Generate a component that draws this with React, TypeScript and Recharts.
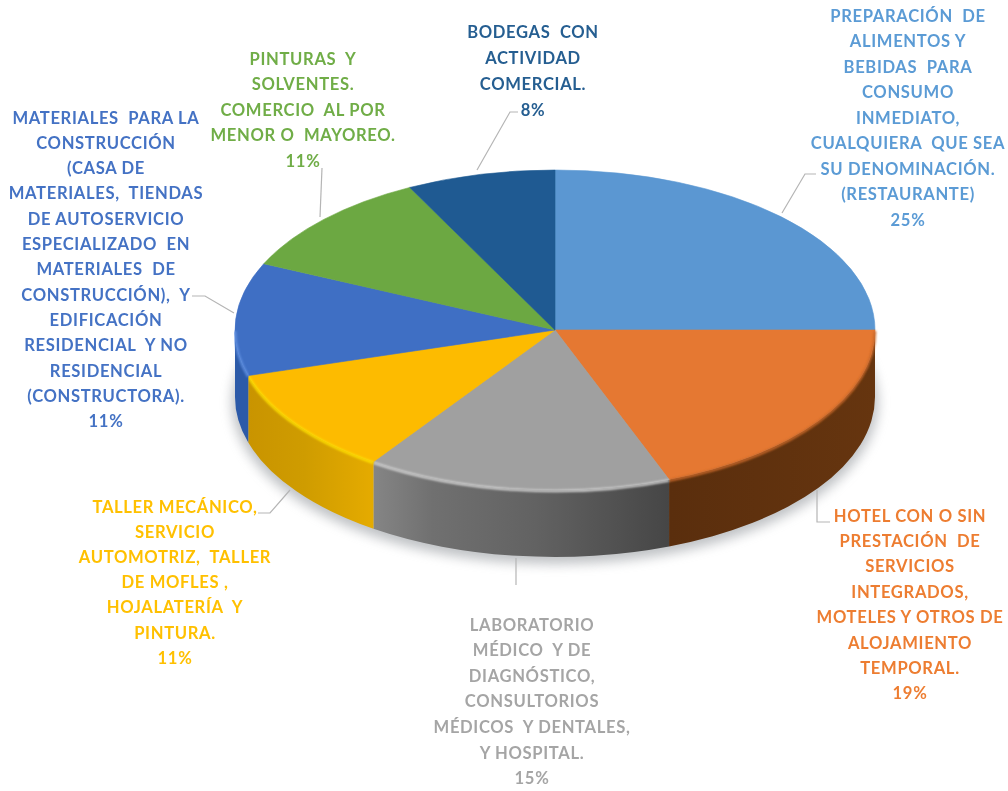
import React from 'react';
import { PieChart, Pie } from 'recharts';

const categories = ['Restaurante', 'Hotel', 'Laboratorio', 'Taller', 'Materiales', 'Pinturas', 'Bodegas'];
const shares = [25, 19.2, 15.4, 10.8, 11.4, 10.7, 7.5];
const labelText = [
  ['PREPARACIÓN  DE', 'ALIMENTOS Y', 'BEBIDAS  PARA', 'CONSUMO', 'INMEDIATO,', 'CUALQUIERA  QUE SEA', 'SU DENOMINACIÓN.', '(RESTAURANTE)'],
  ['HOTEL CON O SIN', 'PRESTACIÓN  DE', 'SERVICIOS', 'INTEGRADOS,', 'MOTELES Y OTROS DE', 'ALOJAMIENTO', 'TEMPORAL.'],
  ['LABORATORIO', 'MÉDICO  Y DE', 'DIAGNÓSTICO,', 'CONSULTORIOS', 'MÉDICOS  Y DENTALES,', 'Y HOSPITAL.'],
  ['TALLER MECÁNICO,', 'SERVICIO', 'AUTOMOTRIZ,  TALLER', 'DE MOFLES ,', 'HOJALATERÍA  Y', 'PINTURA.'],
  ['MATERIALES  PARA LA', 'CONSTRUCCIÓN', '(CASA DE', 'MATERIALES,  TIENDAS', 'DE AUTOSERVICIO', 'ESPECIALIZADO  EN', 'MATERIALES  DE', 'CONSTRUCCIÓN),  Y', 'EDIFICACIÓN', 'RESIDENCIAL  Y NO', 'RESIDENCIAL', '(CONSTRUCTORA).'],
  ['PINTURAS  Y', 'SOLVENTES.', 'COMERCIO  AL POR', 'MENOR O  MAYOREO.'],
  ['BODEGAS  CON', 'ACTIVIDAD', 'COMERCIAL.'],
];
const faceColors = ['#5b97d2', '#e57832', '#a0a0a0', '#fdbb00', '#3f6fc4', '#6ca842', '#1f5a92'];
const textColors = ['#5b9bd5', '#ed7d31', '#a5a5a5', '#ffc000', '#4472c4', '#70ad47', '#255e91'];
const rimColors = ['#7fb2e2', '#c8682a', '#cfcfcf', '#ffe000', '#5f8fe0', '#88c060', '#3a78b0'];

const PIE_CX = 555;
const PIE_CY = 330;
const RADIUS = 320;
const TILT = 0.5;
const DEPTH = 67;

const labelCenters = [908, 910, 532, 175, 106, 303, 533];
const labelTops = [16, 516, 625, 507, 118, 59, 32];
const lineSteps = [25.5, 25.4, 25.6, 25.2, 25.3, 25.5, 26];
const leaderPoints = [
  '782,213 805,174 816,174',
  '817,490 817,522 830,522',
  '516,558 516,585',
  '290,490 270,513 258,513',
  '234,313 205,296 192,296',
  '320,217 322,168',
  '477,170 510,112 518,112',
];

const pt = (cx: number, cy: number, r: number, deg: number) => {
  const a = (deg * Math.PI) / 180;
  return [cx + r * Math.cos(a), cy - r * TILT * Math.sin(a)];
};

const frontRange = (a1: number, a2: number) => {
  const hi = Math.max(a1, a2);
  const lo = Math.min(a1, a2);
  const s = Math.min(hi, 0);
  const e = Math.max(lo, -180);
  return s > e ? [s, e] : null;
};

const SliceShape = (props: any) => {
  const { cx, cy, outerRadius: r, startAngle, endAngle, index } = props;
  const [sx, sy] = pt(cx, cy, r, startAngle);
  const [ex, ey] = pt(cx, cy, r, endAngle);
  const large = Math.abs(startAngle - endAngle) > 180 ? 1 : 0;
  const rx = r;
  const ry = r * TILT;
  const sweep = startAngle > endAngle ? 1 : 0;
  const top = `M${cx},${cy} L${sx},${sy} A${rx},${ry} 0 ${large} ${sweep} ${ex},${ey} Z`;
  const range = frontRange(startAngle, endAngle);
  let side = null;
  let rim = null;
  if (range) {
    const [a, b] = range;
    const [ax, ay] = pt(cx, cy, r, a);
    const [bx, by] = pt(cx, cy, r, b);
    side = `M${ax},${ay} A${rx},${ry} 0 0 1 ${bx},${by} L${bx},${by + DEPTH} A${rx},${ry} 0 0 0 ${ax},${ay + DEPTH} Z`;
    rim = `M${ax},${ay + 1} A${rx},${ry} 0 0 1 ${bx},${by + 1}`;
  }
  return (
    <g>
      {index === 0 && (
        <ellipse cx={cx} cy={cy + DEPTH + 5} rx={r + 3} ry={ry + 2} fill="#8a8f94" opacity={0.55} filter="url(#softShadow)" />
      )}
      {side && <path d={side} fill={`url(#side${index})`} />}
      <path d={top} fill={faceColors[index]} stroke={faceColors[index]} strokeWidth={0.6} />
      {rim && <path d={rim} fill="none" stroke={rimColors[index]} strokeWidth={2.5} filter="url(#softRim)" />}
    </g>
  );
};

const renderLabel = (props: any) => {
  const i = props.index;
  const rows = [...labelText[i], `${Math.round(shares[i])}%`];
  return (
    <text
      key={categories[i]}
      textAnchor="middle"
      fontFamily="Lato, 'Open Sans', sans-serif"
      fontWeight={700}
      fontSize={16.6}
      letterSpacing={0.65}
      fill={textColors[i]}
      style={{ whiteSpace: 'pre' }}
    >
      {rows.map((row, k) => (
        <tspan key={k} x={labelCenters[i]} y={labelTops[i] + k * lineSteps[i] + 5.5}>
          {row}
        </tspan>
      ))}
    </text>
  );
};

const renderLeader = (props: any) => (
  <polyline key={props.index} points={leaderPoints[props.index]} fill="none" stroke="#b5b5b5" strokeWidth={1.2} />
);

const tableData = categories.map((name, i) => ({ name, value: shares[i] }));

export default function App() {
  return (
    <div style={{ position: 'absolute', left: 0, top: 0, width: 1008, height: 791, background: '#fff', filter: 'blur(0.45px)' }}>
      <PieChart width={1008} height={791} margin={{ top: 0, right: 0, bottom: 0, left: 0 }}>
        <defs>
          <filter id="softShadow" x="-10%" y="-20%" width="120%" height="140%">
            <feGaussianBlur stdDeviation="6" />
          </filter>
          <filter id="softRim" x="-5%" y="-50%" width="110%" height="200%">
            <feGaussianBlur stdDeviation="0.8" />
          </filter>
          <linearGradient id="side0"><stop offset="0" stopColor="#2f5f90" /><stop offset="1" stopColor="#2f5f90" /></linearGradient>
          <linearGradient id="side1">
            <stop offset="0" stopColor="#5a2e0d" />
            <stop offset="1" stopColor="#66350f" />
          </linearGradient>
          <linearGradient id="side2">
            <stop offset="0" stopColor="#858585" />
            <stop offset="0.2" stopColor="#707070" />
            <stop offset="0.55" stopColor="#626262" />
            <stop offset="1" stopColor="#464646" />
          </linearGradient>
          <linearGradient id="side3">
            <stop offset="0" stopColor="#c99400" />
            <stop offset="0.45" stopColor="#cf9c00" />
            <stop offset="1" stopColor="#e5ab00" />
          </linearGradient>
          <linearGradient id="side4">
            <stop offset="0" stopColor="#2c5aa8" />
            <stop offset="1" stopColor="#2c5aa8" />
          </linearGradient>
          <linearGradient id="side5"><stop offset="0" stopColor="#4f7d32" /></linearGradient>
          <linearGradient id="side6"><stop offset="0" stopColor="#153f66" /></linearGradient>
        </defs>
        <Pie
          data={tableData}
          dataKey="value"
          nameKey="name"
          cx={PIE_CX}
          cy={PIE_CY}
          outerRadius={RADIUS}
          startAngle={90}
          endAngle={-270}
          paddingAngle={0}
          stroke="none"
          isAnimationActive={false}
          shape={SliceShape}
          label={renderLabel}
          labelLine={renderLeader}
        />
      </PieChart>
    </div>
  );
}
